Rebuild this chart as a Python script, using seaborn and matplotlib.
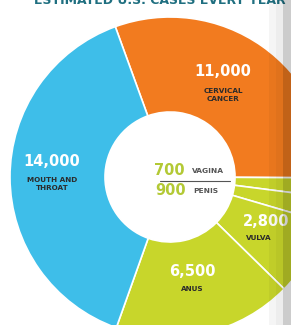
import matplotlib
matplotlib.use("Agg")
import matplotlib.pyplot as plt
from matplotlib.patches import Rectangle
import seaborn as sns

sns.set_theme(style="white")
plt.rcParams['font.family'] = ['DejaVu Sans']

# data
sites = ["CERVICAL\nCANCER", "VAGINA", "PENIS", "VULVA", "ANUS", "MOUTH AND\nTHROAT"]
cases = [11000, 700, 900, 2800, 6500, 14000]
case_text = ["11,000", "700", "900", "2,800", "6,500", "14,000"]

blue = "#3ebee9"
orange = "#f27b1f"
green = "#c8d62b"
light_green = "#b3c935"
colors = [orange, green, green, green, green, blue]

W, H = 291, 325
CX, CY, R = 170, 177, 160


def px(x, y):
    # pixel position -> data coords (pie radius = 1)
    return (x - CX) / R, (CY - y) / R


fig = plt.figure(figsize=(W / 100, H / 100), dpi=100)
ax = fig.add_axes([0, 0, 1, 1])
ax.pie(cases, colors=colors, startangle=110, counterclock=False,
       radius=1, wedgeprops=dict(width=1 - 65 / R, edgecolor="white", linewidth=1.2))
ax.set_xlim(-CX / R, (W - CX) / R)
ax.set_ylim(-(H - CY) / R, CY / R)
ax.set_aspect("equal")
ax.axis("off")

num_kw = dict(ha="center", va="center", fontweight="bold", color="white", fontsize=10.5)
lab_kw = dict(ha="center", va="center", fontweight="bold", color="#2b2b2b",
              fontsize=5.2, linespacing=1.25)

# big wedges
ax.text(*px(223, 72), case_text[0], **num_kw)
ax.text(*px(223, 95), sites[0], **lab_kw)
ax.text(*px(52, 162), case_text[5], **num_kw)
ax.text(*px(52, 184), sites[5], **lab_kw)
ax.text(*px(192, 271), case_text[4], **num_kw)
ax.text(*px(192, 289), sites[4], **lab_kw)
ax.text(*px(266, 222), case_text[3], **num_kw)
ax.text(*px(259, 238), sites[3], **lab_kw)

# small wedges, labelled in the hole
ax.text(*px(169, 171), case_text[1], ha="center", va="center", fontweight="bold",
        color=light_green, fontsize=10.5)
ax.text(*px(192, 171), sites[1], ha="left", va="center", fontweight="bold",
        color="#555555", fontsize=5.4)
ax.plot(*zip(px(160, 181), px(230, 181)), color="#555555", lw=0.8)
ax.text(*px(171, 191), case_text[2], ha="center", va="center", fontweight="bold",
        color=light_green, fontsize=10.5)
ax.text(*px(193, 191), sites[2], ha="left", va="center", fontweight="bold",
        color="#555555", fontsize=5.4)

# cropped title (only its lower edge is inside the picture)
fig.text(160 / W, 1 - 4 / H, "ESTIMATED U.S. CASES EVERY YEAR", ha="center",
         va="baseline", fontweight="bold", color="#1f6f80", fontsize=9)

# page edge shading on the right
for x0, w, a in [(269, 7, 0.04), (276, 7, 0.07), (283, 8, 0.2)]:
    fig.patches.append(Rectangle((x0 / W, 0), w / W, 1, transform=fig.transFigure,
                                 color="black", alpha=a, lw=0, zorder=5))

fig.savefig("out.png", dpi=100)
